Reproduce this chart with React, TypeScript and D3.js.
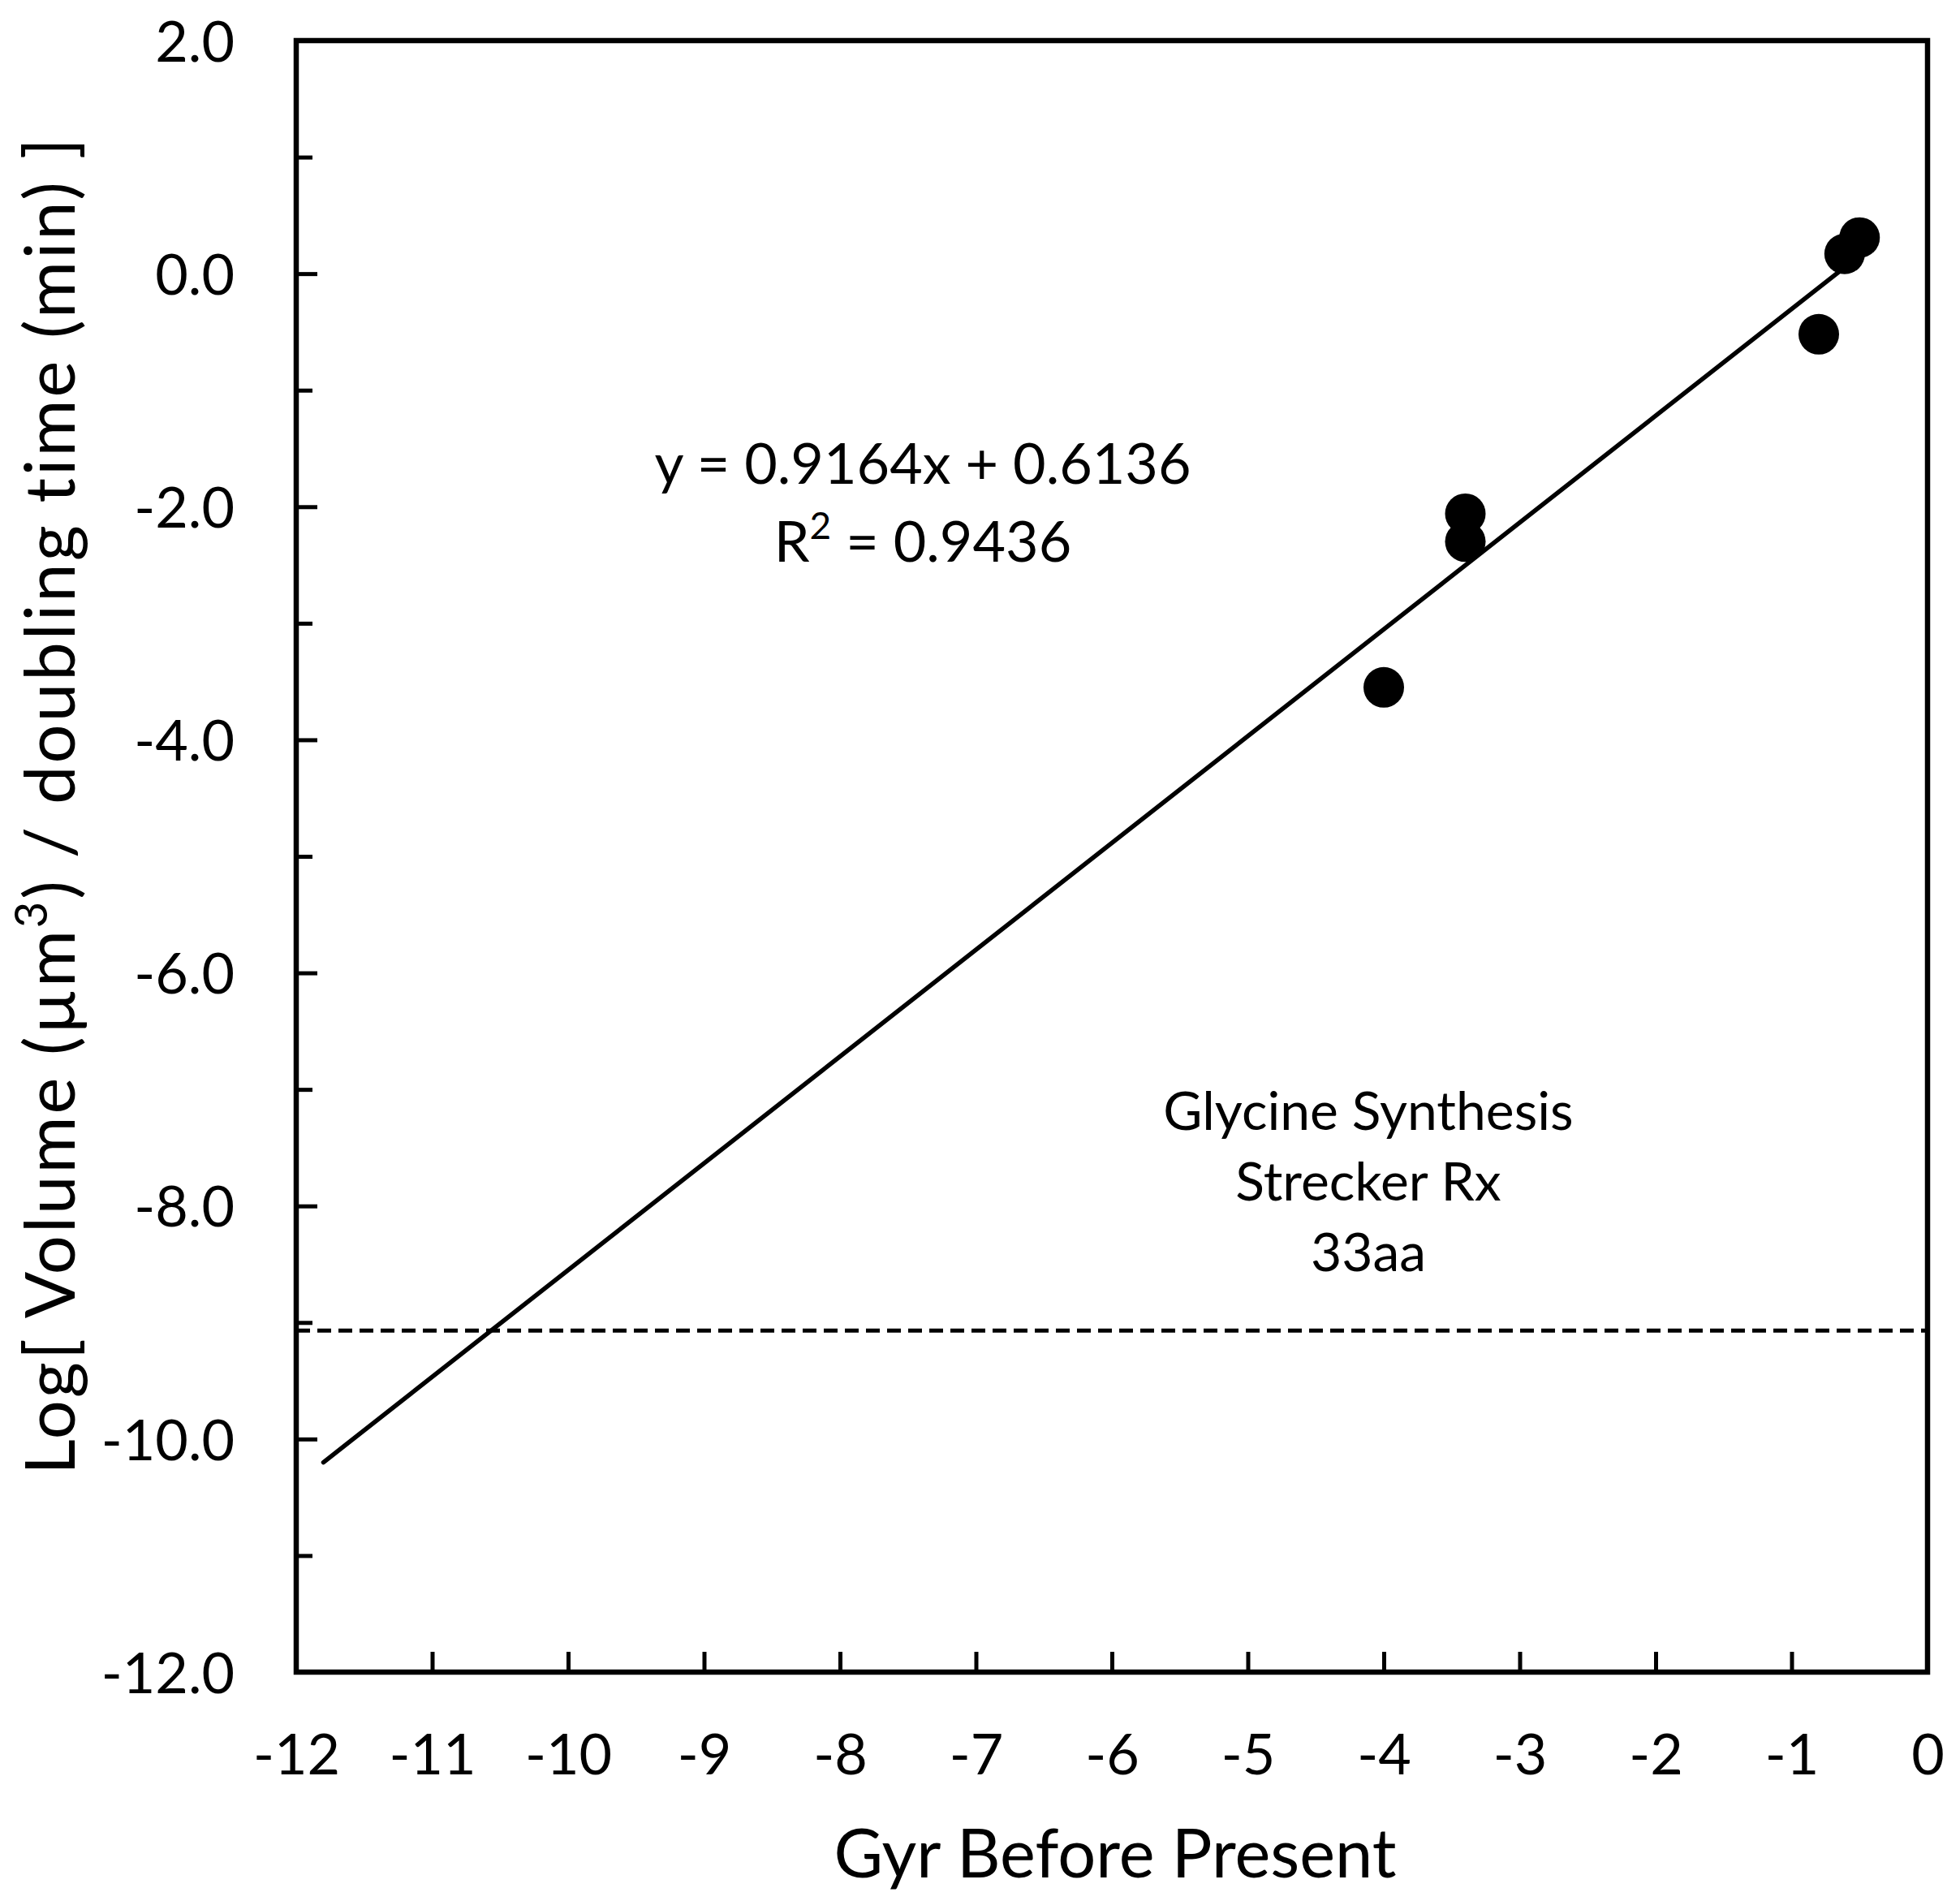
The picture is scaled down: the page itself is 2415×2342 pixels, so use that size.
import React, { useEffect, useRef } from "react";
import * as d3 from "d3";

// measured points (Gyr before present, log[volume / doubling time])
const gyr = [-0.5, -0.61, -0.8, -3.4, -3.4, -4.0];
const logRate = [0.31, 0.17, -0.52, -2.06, -2.3, -3.55];

const slope = 0.9164;
const intercept = 0.6136;
const fitRange = [-11.8, -0.5];
const threshold = -9.07;

const xTicks = [-12, -11, -10, -9, -8, -7, -6, -5, -4, -3, -2, -1, 0];
const yMajor = [2, 0, -2, -4, -6, -8, -10, -12];
const yMinor = [1, -1, -3, -5, -7, -9, -11];

const eqLine = "y = 0.9164x + 0.6136";
const r2Value = " = 0.9436";
const noteLines = ["Glycine Synthesis", "Strecker Rx", "33aa"];

const W = 2415;
const H = 2342;
const FONT = "Lato, 'Open Sans', sans-serif";

const App = () => {
  const svgRef = useRef<SVGSVGElement | null>(null);

  useEffect(() => {
    const margin = { top: 50, right: 40, bottom: 282, left: 365 };
    const svg = d3.select(svgRef.current);
    svg.selectAll("*").remove();

    const x = d3.scaleLinear().domain([-12, 0]).range([margin.left, W - margin.right]);
    const y = d3.scaleLinear().domain([-12, 2]).range([H - margin.bottom, margin.top]);

    const x0 = x.range()[0], x1 = x.range()[1];
    const yTop = y.range()[1], yBot = y.range()[0];

    // x axis, ticks pointing into the plot
    const gx = svg.append("g")
      .attr("transform", `translate(0, ${yBot})`)
      .call(d3.axisBottom(x).tickValues(xTicks).tickSize(-25).tickPadding(76).tickFormat(d3.format("d")));
    gx.select(".domain").remove();
    gx.selectAll("line").attr("stroke", "#000").attr("stroke-width", 5);
    gx.selectAll("text")
      .style("font-family", FONT)
      .style("font-size", "70px")
      .attr("fill", "#000")
      .text(d => (d as number) < 0 ? "-" + Math.abs(d as number) : String(d));

    // y axis
    const gy = svg.append("g")
      .attr("transform", `translate(${x0}, 0)`)
      .call(d3.axisLeft(y).tickValues(yMajor).tickSize(-26).tickPadding(76).tickFormat(d3.format(".1f")));
    gy.select(".domain").remove();
    gy.selectAll("line").attr("stroke", "#000").attr("stroke-width", 5);
    gy.selectAll("text")
      .style("font-family", FONT)
      .style("font-size", "70px")
      .attr("fill", "#000")
      .attr("dy", "0.36em")
      .text(d => d3.format(".1f")(d as number).replace("−", "-"));

    const gyMinor = svg.append("g")
      .attr("transform", `translate(${x0}, 0)`)
      .call(d3.axisLeft(y).tickValues(yMinor).tickSize(-20).tickFormat(() => ""));
    gyMinor.select(".domain").remove();
    gyMinor.selectAll("line").attr("stroke", "#000").attr("stroke-width", 5);

    // plot frame
    svg.append("rect")
      .attr("x", x0)
      .attr("y", yTop)
      .attr("width", x1 - x0)
      .attr("height", yBot - yTop)
      .attr("fill", "none")
      .attr("stroke", "#000")
      .attr("stroke-width", 6.5);

    // dashed threshold
    svg.append("line")
      .attr("x1", x0)
      .attr("x2", x1)
      .attr("y1", y(threshold))
      .attr("y2", y(threshold))
      .attr("stroke", "#000")
      .attr("stroke-width", 5)
      .attr("stroke-dasharray", "17,9");

    // linear trend line
    const line = d3.line<number>()
      .x(d => x(d))
      .y(d => y(slope * d + intercept));
    svg.append("path")
      .datum(fitRange)
      .attr("fill", "none")
      .attr("stroke", "#000")
      .attr("stroke-width", 5.5)
      .attr("stroke-linecap", "round")
      .attr("d", line);

    svg.selectAll(".dot")
      .data(gyr.map((g, i) => ({ g, v: logRate[i] })))
      .enter()
      .append("circle")
      .attr("class", "dot")
      .attr("cx", d => x(d.g))
      .attr("cy", d => y(d.v))
      .attr("r", 25)
      .attr("fill", "#000");

    // equation
    svg.append("text")
      .attr("x", 1137)
      .attr("y", 596)
      .attr("text-anchor", "middle")
      .style("font-family", FONT)
      .style("font-size", "70px")
      .text(eqLine);
    const r2 = svg.append("text")
      .attr("x", 1137)
      .attr("y", 692)
      .attr("text-anchor", "middle")
      .style("font-family", FONT)
      .style("font-size", "70px");
    r2.append("tspan").text("R");
    r2.append("tspan").attr("dy", -28).style("font-size", "46px").text("2");
    r2.append("tspan").attr("dy", 28).text(r2Value);

    // annotation
    svg.append("g")
      .selectAll("text")
      .data(noteLines)
      .enter()
      .append("text")
      .attr("x", 1686)
      .attr("y", (_, i) => 1392 + i * 87)
      .attr("text-anchor", "middle")
      .style("font-family", FONT)
      .style("font-size", "66px")
      .text(d => d);

    // axis titles
    svg.append("text")
      .attr("x", (x0 + x1) / 2 + 4)
      .attr("y", 2313)
      .attr("text-anchor", "middle")
      .style("font-family", FONT)
      .style("font-size", "83px")
      .text("Gyr Before Present");

    const yt = svg.append("text")
      .attr("transform", `translate(92, 992) rotate(-90)`)
      .attr("text-anchor", "middle")
      .style("font-family", FONT)
      .style("font-size", "85px")
      .style("letter-spacing", "3px");
    yt.append("tspan").text("Log[ Volume (µm");
    yt.append("tspan").attr("dy", -34).style("font-size", "56px").text("3");
    yt.append("tspan").attr("dy", 34).text(") / doubling time (min) ]");
  }, []);

  return (
    <div style={{ position: "absolute", left: 0, top: 0, background: "#fff" }}>
      <svg ref={svgRef} width={W} height={H} viewBox={`0 0 ${W} ${H}`} style={{ display: "block" }} />
    </div>
  );
};

export default App;
